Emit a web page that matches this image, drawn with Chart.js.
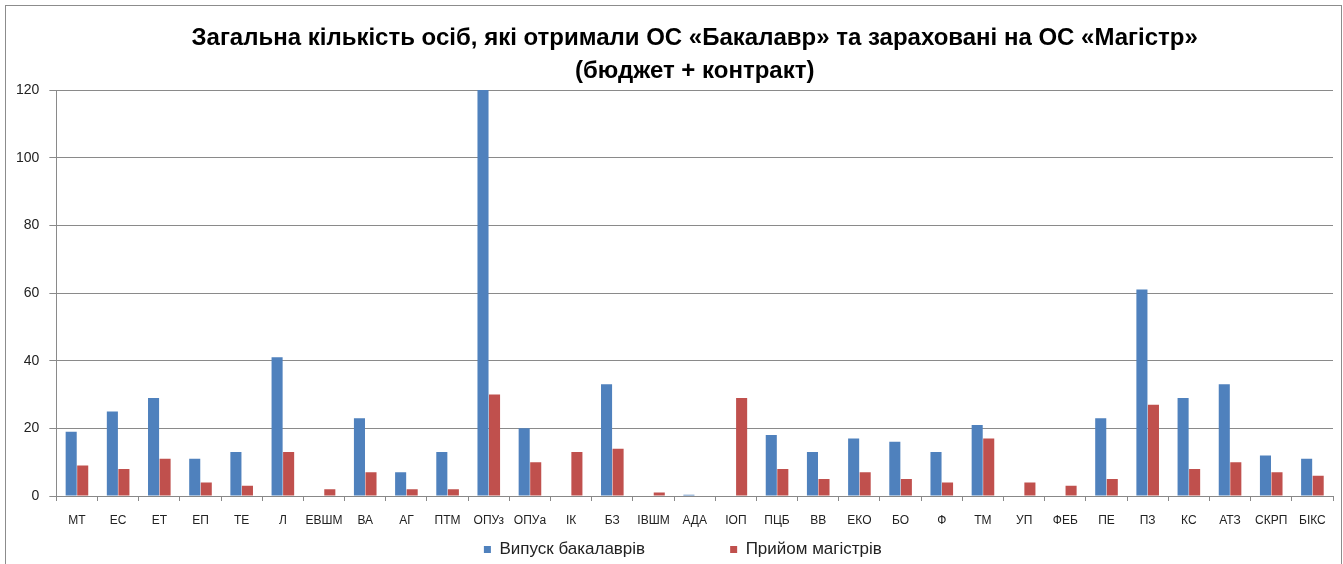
<!DOCTYPE html>
<html>
<head>
<meta charset="utf-8">
<script src="https://cdn.jsdelivr.net/npm/chart.js@4.4.1/dist/chart.umd.min.js"></script>
<style>
    body { margin: 0; background: #fff; overflow: hidden; }
    #ramka {
        position: absolute; left: 5px; top: 5px; width: 1335px; height: 600px;
        border: 1px solid #8c8c8c; background: #fff;
    }
    #ramka canvas { display: block; }
</style>
</head>
<body>
<div id="ramka"><canvas id="myChart" width="1335" height="568"></canvas></div>
<script>
// Дані
let kategorii = ['МТ', 'ЕС', 'ЕТ', 'ЕП', 'ТЕ', 'Л', 'ЕВШМ', 'ВА', 'АГ', 'ПТМ', 'ОПУз', 'ОПУа', 'ІК', 'БЗ', 'ІВШМ', 'АДА',
    'ІОП', 'ПЦБ', 'ВВ', 'ЕКО', 'БО', 'Ф', 'ТМ', 'УП', 'ФЕБ', 'ПЕ', 'ПЗ', 'КС', 'АТЗ', 'СКРП', 'БІКС'];
let vypuskBakalavriv = [19, 25, 29, 11, 13, 41, null, 23, 7, 13, 120, 20, null, 33, null, 0.4,
    null, 18, 13, 17, 16, 13, 21, null, null, 23, 61, 29, 33, 12, 11];
let pryiomMagistriv = [9, 8, 11, 4, 3, 13, 2, 7, 2, 2, 30, 10, 13, 14, 1, null,
    29, 8, 5, 7, 5, 4, 17, 4, 3, 5, 27, 8, 10, 7, 6];
let yTicks = [0, 20, 40, 60, 80, 100, 120];

let nazva = ['Загальна кількість осіб, які отримали ОС «Бакалавр» та зараховані на ОС «Магістр»', '(бюджет + контракт)'];

var ctx = document.getElementById('myChart').getContext('2d');

new Chart(ctx, {
    type: 'bar',
    data: {
        labels: kategorii,
        datasets: [
            {
                label: 'Випуск бакалаврів' + '\u00a0'.repeat(18),
                data: vypuskBakalavriv,
                backgroundColor: '#4F81BD',
                borderWidth: 0,
                barPercentage: 0.96,
                categoryPercentage: 0.56
            },
            {
                label: 'Прийом магістрів' + '\u00a0'.repeat(5),
                data: pryiomMagistriv,
                backgroundColor: '#C0504D',
                borderWidth: 0,
                barPercentage: 0.96,
                categoryPercentage: 0.56
            }
        ]
    },
    options: {
        responsive: false,
        animation: false,
        layout: {
            padding: { left: 0, right: 8, top: 0, bottom: 6 }
        },
        scales: {
            x: {
                offset: true,
                grid: {
                    offset: true,
                    drawOnChartArea: false,
                    color: '#888',
                    tickLength: 5
                },
                border: { color: '#888' },
                ticks: {
                    color: '#222',
                    padding: 14,
                    autoSkip: false,
                    maxRotation: 0,
                    font: { family: 'Liberation Sans', size: 12, lineHeight: 1 }
                }
            },
            y: {
                min: 0,
                max: 120,
                afterBuildTicks: function (axis) {
                    axis.ticks = yTicks.map(v => ({ value: v }));
                },
                grid: {
                    color: '#8a8a8a',
                    tickLength: 7
                },
                border: { color: '#8a8a8a' },
                ticks: {
                    color: '#222',
                    padding: 10,
                    font: { family: 'Liberation Sans', size: 14 }
                }
            }
        },
        plugins: {
            title: {
                display: true,
                fullSize: false,
                text: nazva,
                color: '#000',
                padding: { top: 16, bottom: 2 },
                font: { family: 'Liberation Sans', size: 24, weight: 'bold', lineHeight: 1.375 }
            },
            legend: {
                position: 'bottom',
                fullSize: false,
                labels: {
                    color: '#222',
                    boxWidth: 7,
                    boxHeight: 7,
                    padding: 0,
                    font: { family: 'Liberation Sans', size: 17, lineHeight: 1 }
                }
            },
            tooltip: { enabled: false }
        }
    }
});
</script>
</body>
</html>
